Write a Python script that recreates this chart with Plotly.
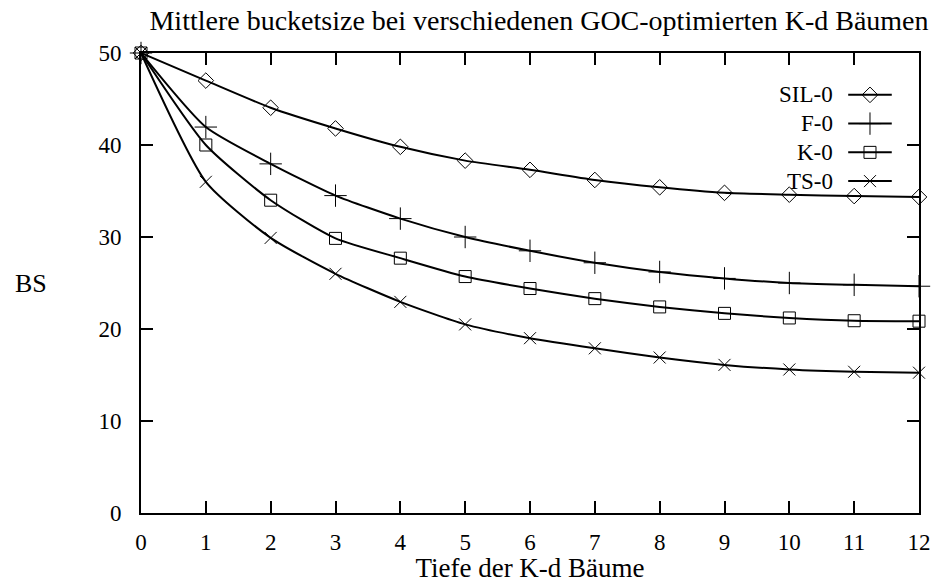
import plotly.graph_objects as go

depth = list(range(13))
sil_0 = [50, 47.0, 44.05, 41.8, 39.8, 38.3, 37.3, 36.2, 35.4, 34.8, 34.6, 34.45, 34.35]
f_0 = [50, 41.95, 37.95, 34.5, 32.0, 30.0, 28.5, 27.2, 26.2, 25.5, 25.0, 24.8, 24.65]
k_0 = [50, 40.0, 34.0, 29.85, 27.7, 25.7, 24.4, 23.3, 22.4, 21.7, 21.2, 20.9, 20.85]
ts_0 = [50, 36.0, 29.9, 26.0, 22.95, 20.5, 19.0, 17.9, 16.9, 16.1, 15.6, 15.35, 15.25]

series_names = ["SIL-0", "F-0", "K-0", "TS-0"]
series_values = [sil_0, f_0, k_0, ts_0]
series_symbols = ["diamond-open", "cross-thin-open", "square-open", "x-thin-open"]
series_sizes = [12, 16, 12, 12]

x_ticks = list(range(13))
y_ticks = [0, 10, 20, 30, 40, 50]

FONT = "Liberation Serif"

fig = go.Figure()
for name, vals, sym, sz in zip(series_names, series_values, series_symbols, series_sizes):
    fig.add_trace(go.Scatter(
        x=depth, y=vals, name=name, mode="lines+markers",
        line=dict(color="black", width=2, shape="spline", smoothing=0.6),
        marker=dict(symbol=sym, size=sz, color="black", line=dict(color="black", width=1)),
        showlegend=False, cliponaxis=False,
    ))

# custom gnuplot-style legend (text left, key right)
key_x0, key_x1, key_top, key_step, text_x = 0.909, 0.965, 0.909, 0.0625, 0.892
for i, (name, sym, sz) in enumerate(zip(series_names, series_symbols, series_sizes)):
    ky = key_top - i * key_step
    fig.add_trace(go.Scatter(
        x=[key_x0, key_x1], y=[ky, ky],
        xaxis="x2", yaxis="y2", mode="lines",
        line=dict(color="black", width=2),
        showlegend=False, hoverinfo="skip",
    ))
    fig.add_trace(go.Scatter(
        x=[(key_x0 + key_x1) / 2], y=[ky],
        xaxis="x2", yaxis="y2", mode="markers",
        marker=dict(symbol=sym, size=sz, color="black", line=dict(color="black", width=1)),
        showlegend=False, hoverinfo="skip",
    ))
    fig.add_annotation(x=text_x, y=ky, xref="paper", yref="paper", text=name,
                       showarrow=False, xanchor="right", yanchor="middle",
                       font=dict(family=FONT, size=23, color="black"))

axis_common = dict(showgrid=False, zeroline=False, showline=True, linecolor="black",
                   linewidth=2, mirror="ticks", ticks="inside", ticklen=12,
                   tickwidth=2, tickcolor="black", automargin=False,
                   tickfont=dict(family=FONT, size=23, color="black"))

fig.update_layout(
    width=933, height=583,
    margin=dict(l=141, r=14, t=53, b=70),
    paper_bgcolor="white", plot_bgcolor="white",
    title=dict(text="Mittlere bucketsize bei verschiedenen GOC-optimierten K-d Bäumen",
               x=539 / 933, xanchor="center", y=1 - 20 / 583, yanchor="middle",
               font=dict(family=FONT, size=28, color="black")),
    xaxis=dict(range=[0, 12], tickvals=x_ticks, ticklabelstandoff=7,
               title=dict(text="Tiefe der K-d Bäume", standoff=6,
                          font=dict(family=FONT, size=27, color="black")),
               **axis_common),
    yaxis=dict(range=[0, 50], tickvals=y_ticks, ticklabelstandoff=13, **axis_common),
    xaxis2=dict(range=[0, 1], overlaying="x", visible=False),
    yaxis2=dict(range=[0, 1], overlaying="y", visible=False),
    showlegend=False,
)
fig.add_annotation(x=(13 - 141) / 778, y=0.5, xref="paper", yref="paper", text="BS",
                   showarrow=False, xanchor="left", yanchor="middle",
                   font=dict(family=FONT, size=26, color="black"))

fig.write_html("out.html", config={"displayModeBar": False},
               post_script="document.body.style.margin='0';document.body.style.overflow='hidden';")
